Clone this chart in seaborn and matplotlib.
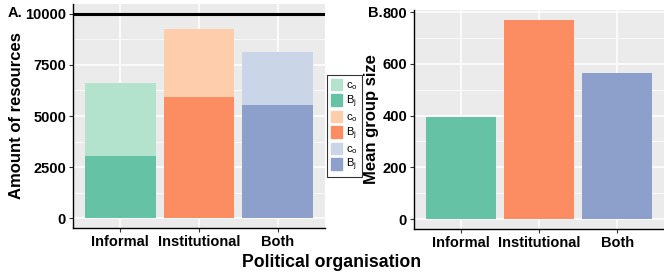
import matplotlib
matplotlib.use("Agg")
import matplotlib.pyplot as plt
import seaborn as sns
from matplotlib.patches import Patch
from matplotlib.ticker import AutoMinorLocator, FixedLocator

# Data
categories = ["Informal", "Institutional", "Both"]
b_j = [3050, 5920, 5540]          # lower (dark) part of the stack
c_o = [3580, 3330, 2580]          # upper (light) part of the stack
group_size = [395, 769, 565]
resource_cap = 10000

dark = ["#66C2A5", "#FC8D62", "#8DA0CB"]
light = ["#B3E2CD", "#FDCDAC", "#CBD5E8"]

sns.set_theme(style="darkgrid")
plt.rcParams["font.family"] = ["Liberation Sans", "DejaVu Sans"]
plt.rcParams["font.weight"] = "bold"
plt.rcParams["mathtext.default"] = "regular"
plt.rcParams["text.color"] = "black"
plt.rcParams["axes.labelcolor"] = "black"

fig = plt.figure(figsize=(6.64, 2.77), dpi=100)
axA = fig.add_axes([73 / 664, 49 / 277, 252 / 664, 224 / 277])
axB = fig.add_axes([414 / 664, 48 / 277, 250 / 664, 219 / 277])

totals = [b + c for b, c in zip(b_j, c_o)]
sns.barplot(x=categories, y=totals, hue=categories, palette=light, legend=False,
            width=0.9, saturation=1, linewidth=0, ax=axA)
sns.barplot(x=categories, y=b_j, hue=categories, palette=dark, legend=False,
            width=0.9, saturation=1, linewidth=0, ax=axA)
axA.axhline(resource_cap, color="black", lw=2.2)
axA.set_ylim(-490, 10490)
axA.set_xlim(-0.6, 2.6)
axA.yaxis.set_major_locator(FixedLocator([0, 2500, 5000, 7500, 10000]))

sns.barplot(x=categories, y=group_size, hue=categories, palette=dark, legend=False,
            width=0.9, saturation=1, linewidth=0, ax=axB)
axB.set_ylim(-38.5, 808)
axB.set_xlim(-0.6, 2.6)
axB.yaxis.set_major_locator(FixedLocator([0, 200, 400, 600, 800]))

for ax in (axA, axB):
    ax.set_facecolor("#EBEBEB")
    ax.set_axisbelow(True)
    ax.yaxis.set_minor_locator(AutoMinorLocator(2))
    ax.grid(which="major", color="white", lw=1.1)
    ax.grid(which="minor", axis="y", color="white", lw=0.5)
    for side in ("top", "right"):
        ax.spines[side].set_visible(False)
    for side in ("left", "bottom"):
        ax.spines[side].set_visible(True)
        ax.spines[side].set_color("black")
        ax.spines[side].set_linewidth(1.0)
    ax.tick_params(axis="both", which="major", length=3, width=0.8, color="#333333",
                   labelsize=10.5, labelcolor="black", pad=2)
    ax.tick_params(axis="y", which="minor", length=0)
    ax.tick_params(left=True, bottom=True)
    ax.set_xlabel("")
    for lab in ax.get_xticklabels() + ax.get_yticklabels():
        lab.set_fontweight("bold")

axA.set_ylabel("Amount of resources", fontsize=12, fontweight="bold", color="black")
axA.yaxis.set_label_coords(-0.195, 0.5)
axB.set_ylabel("Mean group size", fontsize=12, fontweight="bold", color="black")
axB.yaxis.set_label_coords(-0.14, 0.5)

fig.text(0.5, 0.054, "Political organisation", ha="center", va="center",
         fontsize=12.7, fontweight="bold", color="black")
fig.text(8 / 664, 1 - 13 / 277, "A.", ha="left", va="center", fontsize=10.5,
         fontweight="bold", color="black")
fig.text(368 / 664, 1 - 13 / 277, "B.", ha="left", va="center", fontsize=10.5,
         fontweight="bold", color="black")

handles = []
labels = []
for lc, dc in zip(light, dark):
    handles += [Patch(color=lc), Patch(color=dc)]
    labels += [r"$c_o$", r"$B_j$"]
leg = fig.legend(handles, labels, loc="upper left", bbox_to_anchor=(327 / 664, 1 - 75 / 277),
                 fontsize=8, handlelength=1.0, handleheight=1.2, labelspacing=0.1,
                 handletextpad=0.4, borderpad=0.35, borderaxespad=0, fancybox=False,
                 frameon=True)
leg.get_frame().set_edgecolor("black")
leg.get_frame().set_linewidth(0.8)
leg.get_frame().set_facecolor("white")
for t in leg.get_texts():
    t.set_fontweight("normal")
    t.set_color("black")

fig.savefig("out.png", dpi=100)
